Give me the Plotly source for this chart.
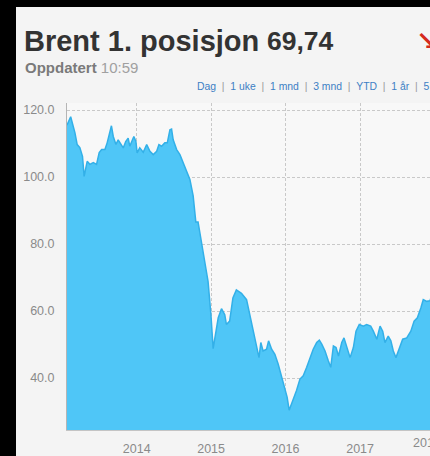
import plotly.graph_objects as go

# ---------------- data ----------------
dates = [
    "2013-01-24", "2013-02-11", "2013-03-04", "2013-03-15", "2013-03-28", "2013-04-10",
    "2013-04-18", "2013-05-03", "2013-05-16", "2013-06-02", "2013-06-18", "2013-07-01",
    "2013-07-13", "2013-07-29", "2013-08-09", "2013-08-22", "2013-08-30", "2013-09-08",
    "2013-09-21", "2013-10-02", "2013-10-15", "2013-10-27", "2013-11-08", "2013-11-20",
    "2013-11-28", "2013-12-09", "2013-12-18", "2013-12-28", "2014-01-03", "2014-01-16",
    "2014-02-02", "2014-02-19", "2014-03-07", "2014-03-23", "2014-04-09", "2014-04-20",
    "2014-05-03", "2014-05-19", "2014-05-31", "2014-06-13", "2014-06-21", "2014-06-29",
    "2014-07-16", "2014-08-01", "2014-08-17", "2014-09-03", "2014-09-19", "2014-10-05",
    "2014-10-18", "2014-10-29", "2014-11-15", "2014-12-01", "2014-12-17", "2014-12-31",
    "2015-01-11", "2015-02-05", "2015-02-21", "2015-03-09", "2015-03-17", "2015-04-02",
    "2015-04-18", "2015-05-05", "2015-05-30", "2015-06-24", "2015-07-10", "2015-07-26",
    "2015-08-12", "2015-08-24", "2015-09-02", "2015-09-13", "2015-09-30", "2015-10-10",
    "2015-10-25", "2015-11-10", "2015-11-26", "2015-12-13", "2015-12-29", "2016-01-09",
    "2016-01-19", "2016-01-31", "2016-02-11", "2016-02-24", "2016-03-12", "2016-03-28",
    "2016-04-14", "2016-04-30", "2016-05-16", "2016-06-02", "2016-06-15", "2016-06-27",
    "2016-07-13", "2016-07-29", "2016-08-10", "2016-08-23", "2016-09-05", "2016-09-17",
    "2016-10-03", "2016-10-14", "2016-10-28", "2016-11-13", "2016-11-29", "2016-12-12",
    "2016-12-28", "2017-01-17", "2017-02-02", "2017-02-22", "2017-03-07", "2017-03-24",
    "2017-04-09", "2017-04-22", "2017-05-03", "2017-05-19", "2017-06-01", "2017-06-13",
    "2017-06-26", "2017-07-11", "2017-07-29", "2017-08-18", "2017-09-07", "2017-09-23",
    "2017-10-09", "2017-10-26", "2017-11-07", "2017-11-24", "2017-12-10", "2017-12-28",
    "2018-01-12",
]
prices = [
    115.5, 118.0, 113.2, 109.7, 108.8, 106.2,
    100.2, 104.7, 103.8, 104.3, 103.8, 107.3,
    108.2, 108.2, 110.2, 113.2, 115.3, 112.1,
    109.7, 111.1, 109.7, 108.7, 110.6, 111.6,
    109.2, 111.1, 112.1, 110.6, 107.2, 108.7,
    107.4, 109.7, 107.7, 106.7, 107.7, 109.7,
    109.2, 110.2, 110.2, 114.1, 114.3, 111.1,
    108.2, 106.7, 104.3, 101.8, 99.3, 94.4,
    86.6, 86.6, 80.7, 74.8, 68.9, 59.0,
    48.8, 58.0, 60.7, 58.9, 56.0, 57.0,
    63.9, 66.3, 65.3, 63.4, 58.9, 54.0,
    50.1, 46.1, 50.6, 48.1, 48.6, 51.1,
    48.6, 47.1, 44.2, 40.2, 37.3, 34.3,
    30.4, 32.4, 33.8, 36.3, 39.7, 40.7,
    43.2, 46.1, 48.6, 50.6, 51.3, 50.1,
    48.1, 45.2, 43.2, 49.6, 49.1, 46.6,
    50.6, 52.0, 49.1, 46.1, 49.1, 54.0,
    56.0, 55.5, 56.0, 55.5, 54.0, 51.6,
    55.5, 54.0, 50.6, 52.5, 51.1, 48.1,
    46.1, 48.6, 51.6, 52.0, 54.0, 57.0,
    58.0, 60.9, 63.4, 62.9, 63.1, 66.5,
    69.74,
]
year_ticks = ["2014-01-01", "2015-01-01", "2016-01-01", "2017-01-01"]
year_labels = ["2014", "2015", "2016", "2017"]
extra_year_label = "2018"
price_ticks = [40, 60, 80, 100, 120]

title_name = "Brent 1. posisjon"
title_value = "69,74"
updated_label = "Oppdatert"
updated_time = "10:59"
period_links = ["Dag", "1 uke", "1 mnd", "3 mnd", "YTD", "1 år", "5 år"]

# ---------------- geometry ----------------
W, H = 430, 456
ML, MR, MT, MB = 67, 0, 103, 23
PW, PH = W - ML - MR, H - MT - MB


def ax(px):
    return (px - ML) / PW


def ay(py):
    return 1 - (py - MT) / PH


BASE_FONT = "Liberation Sans, Arial, Helvetica, sans-serif"
TITLE_FONT = "Liberation Sans Narrow, Arial Narrow, Liberation Sans, sans-serif"
TICK_COLOR = "#8a8a8a"

fig = go.Figure()
fig.add_trace(go.Scatter(
    x=dates, y=prices, mode="lines",
    fill="tozeroy", fillcolor="#4fc6f7",
    line=dict(color="#33b0e8", width=1.5),
    hoverinfo="skip", showlegend=False,
))

sep = "\u00a0\u00a0<span style='color:#9a9a9a'>|</span>\u00a0\u00a0"
links_text = sep.join(period_links)

annotations = [
    dict(text="<b>" + title_name + "</b>", x=ax(22), y=ay(40), xanchor="left", yanchor="middle",
         font=dict(family=TITLE_FONT, size=29, color="#333333")),
    dict(text="<b>" + title_value + "</b>", x=ax(265), y=ay(40.5), xanchor="left", yanchor="middle",
         font=dict(family=TITLE_FONT, size=26.5, color="#333333")),
    dict(text="<b>" + updated_label + "</b> <span style='color:#a0a0a0'>" + updated_time + "</span>",
         x=ax(23), y=ay(67), xanchor="left", yanchor="middle",
         font=dict(family=BASE_FONT, size=15, color="#7a7a7a")),
    dict(text=links_text, x=ax(195), y=ay(86.5), xanchor="left", yanchor="middle",
         font=dict(family=BASE_FONT, size=10.4, color="#3d7fc4")),
    dict(text="<b>↘</b>", x=ax(414), y=ay(40), xanchor="left", yanchor="middle",
         font=dict(family="DejaVu Sans, sans-serif", size=26, color="#d42a1c")),
    dict(text=extra_year_label, x=ax(411), y=ay(446.5), xanchor="left", yanchor="middle",
         font=dict(family=BASE_FONT, size=12.5, color=TICK_COLOR)),
]
for a in annotations:
    a.update(xref="paper", yref="paper", showarrow=False)

shapes = [
    dict(type="rect", xref="paper", yref="paper", x0=ax(-5), x1=ax(16), y0=ay(H + 5), y1=ay(-30),
         fillcolor="black", line=dict(width=0), layer="above"),
    dict(type="rect", xref="paper", yref="paper", x0=ax(-5), x1=ax(W + 5), y0=ay(6), y1=ay(-30),
         fillcolor="black", line=dict(width=0), layer="above"),
]

fig.update_layout(
    width=W, height=H,
    margin=dict(l=ML, r=MR, t=MT, b=MB, pad=0),
    paper_bgcolor="#f4f4f4",
    plot_bgcolor="#f8f8f8",
    showlegend=False,
    annotations=annotations,
    shapes=shapes,
    font=dict(family=BASE_FONT, size=12.5, color=TICK_COLOR),
    xaxis=dict(
        type="date",
        range=["2013-01-24", "2017-12-10"],
        tickvals=year_ticks, ticktext=year_labels,
        showgrid=True, gridcolor="#c9c9c9", gridwidth=1, griddash="3px,2px",
        showline=True, linecolor="#c4c4c4", linewidth=1,
        ticks="", ticklabelstandoff=7,
        tickfont=dict(family=BASE_FONT, size=12.5, color=TICK_COLOR),
        zeroline=False, fixedrange=True,
    ),
    yaxis=dict(
        range=[24.5, 122.1],
        tickvals=price_ticks, tickformat=".1f",
        showgrid=True, gridcolor="#c9c9c9", gridwidth=1, griddash="3px,2px",
        showline=True, linecolor="#b5b5b5", linewidth=1,
        ticks="", ticklabelstandoff=9,
        tickfont=dict(family=BASE_FONT, size=12.5, color=TICK_COLOR),
        zeroline=False, fixedrange=True,
    ),
)

page_fix = (
    "document.documentElement.style.margin='0';"
    "document.documentElement.style.padding='0';"
    "document.documentElement.style.overflow='hidden';"
    "document.body.style.margin='0';"
    "document.body.style.padding='0';"
    "document.body.style.overflow='hidden';"
    "document.body.style.background='#f4f4f4';"
)

fig.write_html("out.html", config={"displayModeBar": False}, post_script=page_fix)
